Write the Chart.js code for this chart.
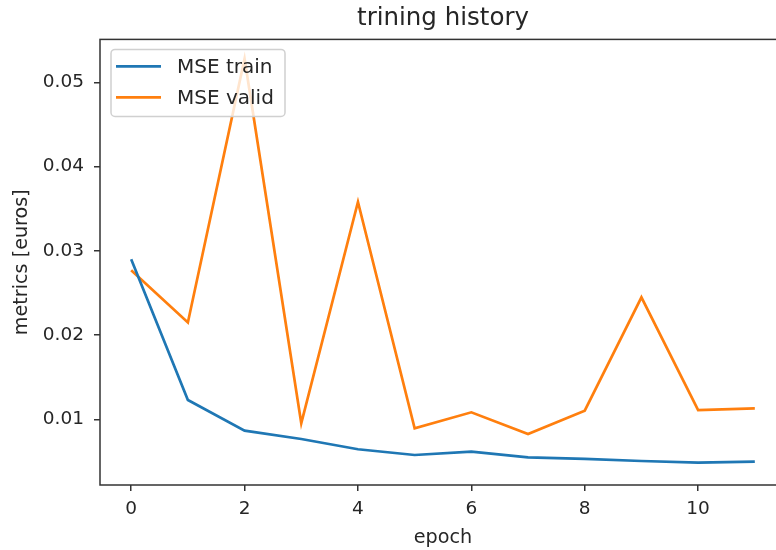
<!DOCTYPE html>
<html>
<head>
<meta charset="utf-8">
<script src="https://cdn.jsdelivr.net/npm/chart.js@4/dist/chart.umd.min.js"></script>
<style>
  html, body { margin: 0; padding: 0; background: #fff; overflow: hidden; }
  #wrap { width: 776px; height: 550px; overflow: hidden; }
</style>
</head>
<body>
<div id="wrap"><canvas id="history" width="786" height="550"></canvas></div>
<script>
const epochs = [0, 1, 2, 3, 4, 5, 6, 7, 8, 9, 10, 11];
const mseTrain = [0.0290, 0.0123, 0.00865, 0.00766, 0.00644, 0.00576, 0.00616, 0.00549, 0.00529, 0.00505, 0.00485, 0.00497];
const mseValid = [0.0277, 0.0215, 0.0528, 0.00953, 0.0358, 0.00893, 0.01083, 0.00826, 0.01102, 0.02448, 0.0111, 0.0113];
const xTicks = [0, 2, 4, 6, 8, 10];
const yTicks = [0.01, 0.02, 0.03, 0.04, 0.05];

const FONT = 'DejaVu Sans';
const INK = '#262626';
const SPINE = '#333333';

// axes frame plus a legend sitting inside the plot, upper left
const framePlugin = {
    id: 'frame',
    afterDatasetsDraw(chart) {
        const {ctx, chartArea: a} = chart;
        ctx.save();
        ctx.strokeStyle = SPINE;
        ctx.lineWidth = 1.5;
        ctx.strokeRect(a.left, a.top, a.right - a.left, a.bottom - a.top);

        // legend box
        const bx = a.left + 11, by = a.top + 10, bw = 174, bh = 67, r = 4;
        ctx.beginPath();
        ctx.moveTo(bx + r, by);
        ctx.arcTo(bx + bw, by, bx + bw, by + bh, r);
        ctx.arcTo(bx + bw, by + bh, bx, by + bh, r);
        ctx.arcTo(bx, by + bh, bx, by, r);
        ctx.arcTo(bx, by, bx + bw, by, r);
        ctx.closePath();
        ctx.fillStyle = 'rgba(255,255,255,0.8)';
        ctx.fill();
        ctx.strokeStyle = '#d0d0d0';
        ctx.lineWidth = 1.5;
        ctx.stroke();

        ctx.font = '20px "' + FONT + '"';
        ctx.textBaseline = 'middle';
        ctx.textAlign = 'left';
        chart.data.datasets.forEach((ds, i) => {
            const y = by + 17 + i * 31;
            ctx.beginPath();
            ctx.moveTo(bx + 5, y);
            ctx.lineTo(bx + 50, y);
            ctx.strokeStyle = ds.borderColor;
            ctx.lineWidth = ds.borderWidth;
            ctx.stroke();
            ctx.fillStyle = INK;
            ctx.fillText(ds.label, bx + 66, y + 1);
        });
        ctx.restore();
    }
};

const toPoints = (ys) => epochs.map((e, i) => ({x: e, y: ys[i]}));

new Chart(document.getElementById('history').getContext('2d'), {
    type: 'line',
    data: {
        datasets: [{
            label: 'MSE train',
            data: toPoints(mseTrain),
            borderColor: '#1f77b4',
            borderWidth: 2.7,
            pointRadius: 0,
            tension: 0,
            fill: false
        }, {
            label: 'MSE valid',
            data: toPoints(mseValid),
            borderColor: '#ff7f0e',
            borderWidth: 2.7,
            pointRadius: 0,
            tension: 0,
            fill: false
        }]
    },
    options: {
        responsive: false,
        animation: false,
        devicePixelRatio: 1,
        layout: {padding: 0},
        plugins: {
            legend: {display: false},
            tooltip: {enabled: false},
            title: {
                display: true,
                fullSize: false,
                text: 'trining history',
                color: INK,
                font: {family: FONT, size: 24.5, weight: 'normal'},
                padding: {top: 4, bottom: 6}
            }
        },
        scales: {
            x: {
                type: 'linear',
                min: -0.55,
                max: 11.55,
                afterBuildTicks: (axis) => { axis.ticks = xTicks.map(v => ({value: v})); },
                afterFit: (axis) => { axis.height = 65; },
                grid: {drawOnChartArea: false, tickLength: 6, tickColor: SPINE, lineWidth: 1.5},
                border: {display: false},
                ticks: {
                    color: INK,
                    padding: 7,
                    maxRotation: 0,
                    font: {family: FONT, size: 18.5},
                    callback: (v) => String(v)
                },
                title: {
                    display: true,
                    text: 'epoch',
                    color: INK,
                    font: {family: FONT, size: 19.2},
                    padding: {top: 0, bottom: 0}
                }
            },
            y: {
                type: 'linear',
                min: 0.0022,
                max: 0.0551,
                afterBuildTicks: (axis) => { axis.ticks = yTicks.map(v => ({value: v})); },
                afterFit: (axis) => { axis.width = 100; },
                grid: {drawOnChartArea: false, tickLength: 6, tickColor: SPINE, lineWidth: 1.5},
                border: {display: false},
                ticks: {
                    color: INK,
                    padding: 10,
                    font: {family: FONT, size: 18.5},
                    callback: (v) => v.toFixed(2)
                },
                title: {
                    display: true,
                    text: 'metrics [euros]',
                    color: INK,
                    font: {family: FONT, size: 19.2},
                    padding: {top: 10, bottom: 0}
                }
            }
        }
    },
    plugins: [framePlugin]
});
</script>
</body>
</html>
